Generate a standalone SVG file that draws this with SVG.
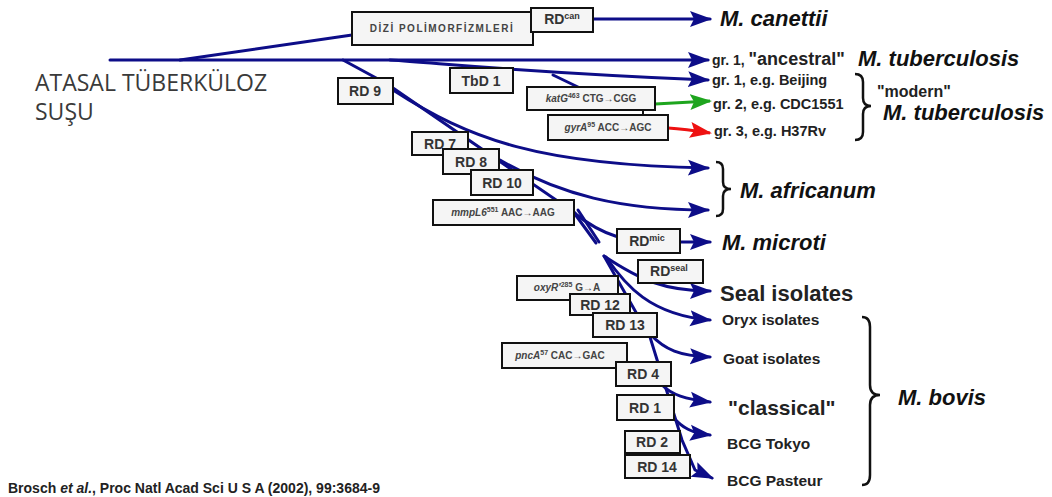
<svg xmlns="http://www.w3.org/2000/svg" width="1052" height="497" viewBox="0 0 1052 497">
<defs>
<marker id="ab" markerUnits="userSpaceOnUse" markerWidth="22" markerHeight="18" refX="20" refY="9" orient="auto"><path d="M0,1 L22,9 L0,17 L4,9 z" fill="#0d0d88"/></marker>
<marker id="ag" markerUnits="userSpaceOnUse" markerWidth="22" markerHeight="18" refX="20" refY="9" orient="auto"><path d="M0,1 L22,9 L0,17 L4,9 z" fill="#1ea51e"/></marker>
<marker id="ar" markerUnits="userSpaceOnUse" markerWidth="22" markerHeight="18" refX="20" refY="9" orient="auto"><path d="M0,1 L22,9 L0,17 L4,9 z" fill="#ee1111"/></marker>
<style>
.ln{fill:none;stroke:#0d0d88;stroke-width:3;stroke-linecap:round}
.box{fill:#f5f5f5;stroke:#111;stroke-width:2}
.bt{font-family:"Liberation Sans",Arial,sans-serif;font-weight:bold;font-size:14px;fill:#333;text-anchor:middle}
.st{font-family:"Liberation Sans",Arial,sans-serif;font-weight:bold;font-size:10px;fill:#444;text-anchor:middle}
.lb{font-family:"Liberation Sans",Arial,sans-serif;font-weight:bold;fill:#222}
.sp{font-family:"Liberation Sans",Arial,sans-serif;font-weight:bold;font-style:italic;font-size:22px;fill:#111}
.br{fill:none;stroke:#111;stroke-width:2.5}
.root{font-family:"Open Sans",sans-serif;font-size:23px;fill:#3a3a3a}
</style>
</defs>
<g id="connectors">
<path class="ln" d="M110,60 L708,60" marker-end="url(#ab)"/>
<path class="ln" d="M180,60 L352,35"/>
<path class="ln" d="M593,19 L710,19" marker-end="url(#ab)"/>
<path class="ln" d="M390,60 C450,64 520,72 708,80" marker-end="url(#ab)"/>
<path class="ln" d="M553,75 L580,88"/>
<path d="M655,104 L710,101" fill="none" stroke="#1ea51e" stroke-width="3" marker-end="url(#ag)"/>
<path d="M643,110 L643,116" fill="none" stroke="#111" stroke-width="2"/>
<path d="M668,128 Q685,129 710,133" fill="none" stroke="#ee1111" stroke-width="3" marker-end="url(#ar)"/>
<path class="ln" d="M343,60 L378,79"/>
<path class="ln" d="M393,90 C470,140 540,165 708,168" marker-end="url(#ab)"/>
<path class="ln" d="M393,88 L575,213"/>
<path class="ln" d="M500,160 C560,195 620,210 708,210" marker-end="url(#ab)"/>
<path class="ln" d="M573,212 Q595,230 618,237"/>
<path class="ln" d="M680,242 L710,242" marker-end="url(#ab)"/>
<path class="ln" d="M572,210 L596,243"/>
<path class="ln" d="M578,210 L599,242"/>
<path class="ln" d="M604,256 C640,280 665,291 710,291" marker-end="url(#ab)"/>
<path class="ln" d="M606,257 C625,285 650,315 710,320" marker-end="url(#ab)"/>
<path class="ln" d="M604,256 L650,337 L668,395 L682,440 L695,470 L712,478" marker-end="url(#ab)"/>
<path class="ln" d="M650,334 C665,350 680,356 710,357" marker-end="url(#ab)"/>
<path class="ln" d="M662,385 C672,395 685,399 710,402" marker-end="url(#ab)"/>
<path class="ln" d="M672,416 C682,428 692,433 710,435" marker-end="url(#ab)"/>
</g>
<g id="n-dizi"><rect class="box" x="352" y="12" width="181" height="33"/><text class="st" x="442" y="32" style="letter-spacing:1.5px">DİZİ POLİMORFİZMLERİ</text></g>
<g id="n-rdcan"><rect class="box" x="531" y="8" width="62" height="24"/><text class="bt" x="562" y="24">RD<tspan font-size="9" dy="-5">can</tspan></text></g>
<g id="n-rd9"><rect class="box" x="338" y="78" width="55" height="26"/><text class="bt" x="365" y="96">RD 9</text></g>
<g id="n-tbd1"><rect class="box" x="450" y="68" width="63" height="25"/><text class="bt" x="481" y="86">TbD 1</text></g>
<g id="n-katg"><rect class="box" x="527" y="87" width="128" height="23"/><text class="st" x="591" y="102"><tspan font-style="italic">katG</tspan><tspan font-size="7" dy="-4">463</tspan><tspan dy="4"> CTG→CGG</tspan></text></g>
<g id="n-gyra"><rect class="box" x="548" y="115" width="120" height="25"/><text class="st" x="608" y="131"><tspan font-style="italic">gyrA</tspan><tspan font-size="7" dy="-4">95</tspan><tspan dy="4"> ACC→AGC</tspan></text></g>
<g id="n-rd7"><rect class="box" x="412" y="132" width="56" height="23"/><text class="bt" x="440" y="149">RD 7</text></g>
<g id="n-rd8"><rect class="box" x="443" y="149" width="56" height="25"/><text class="bt" x="471" y="167">RD 8</text></g>
<g id="n-rd10"><rect class="box" x="471" y="170" width="62" height="25"/><text class="bt" x="502" y="188">RD 10</text></g>
<g id="n-mmpl6"><rect class="box" x="433" y="200" width="141" height="25"/><text class="st" x="503" y="216"><tspan font-style="italic">mmpL6</tspan><tspan font-size="7" dy="-4">551</tspan><tspan dy="4"> AAC→AAG</tspan></text></g>
<g id="n-rdmic"><rect class="box" x="617" y="229" width="63" height="24"/><text class="bt" x="647" y="246">RD<tspan font-size="9" dy="-5">mic</tspan></text></g>
<g id="n-rdseal"><rect class="box" x="638" y="260" width="65" height="23"/><text class="bt" x="669" y="276">RD<tspan font-size="9" dy="-5">seal</tspan></text></g>
<g id="n-oxyr"><rect class="box" x="517" y="276" width="101" height="24"/><text class="st" x="567" y="291"><tspan font-style="italic">oxyR'</tspan><tspan font-size="7" dy="-4">285</tspan><tspan dy="4"> G→A</tspan></text></g>
<g id="n-rd12"><rect class="box" x="570" y="294" width="60" height="21"/><text class="bt" x="600" y="310">RD 12</text></g>
<g id="n-rd13"><rect class="box" x="593" y="313" width="64" height="24"/><text class="bt" x="625" y="330">RD 13</text></g>
<g id="n-pnca"><rect class="box" x="502" y="343" width="125" height="25"/><text class="st" x="560" y="359"><tspan font-style="italic">pncA</tspan><tspan font-size="7" dy="-4">57</tspan><tspan dy="4"> CAC→GAC</tspan></text></g>
<g id="n-rd4"><rect class="box" x="616" y="362" width="55" height="24"/><text class="bt" x="643" y="379">RD 4</text></g>
<g id="n-rd1"><rect class="box" x="617" y="395" width="57" height="25"/><text class="bt" x="645" y="413">RD 1</text></g>
<g id="n-rd2"><rect class="box" x="625" y="431" width="55" height="22"/><text class="bt" x="652" y="447">RD 2</text></g>
<g id="n-rd14"><rect class="box" x="625" y="455" width="65" height="23"/><text class="bt" x="657" y="472">RD 14</text></g>
<g id="n-root"><text class="root" x="35" y="91">ATASAL TÜBERKÜLOZ</text><text class="root" x="35" y="120">SUŞU</text></g>
<g id="labels">
<text class="sp" x="720" y="26">M. canettii</text>
<text class="lb" x="712" y="65"><tspan font-size="14">gr. 1, </tspan><tspan font-size="18">"ancestral"</tspan></text>
<text class="sp" x="858" y="66">M. tuberculosis</text>
<text class="lb" x="712" y="85" font-size="14.5">gr. 1, e.g. Beijing</text>
<text class="lb" x="713" y="109" font-size="14.5">gr. 2, e.g. CDC1551</text>
<text class="lb" x="714" y="136" font-size="14.5">gr. 3, e.g. H37Rv</text>
<path class="br" d="M855,74 Q863,74 863,82 L863,98 Q863,106 871,106 Q863,106 863,114 L863,132 Q863,140 855,140"/>
<text class="lb" x="877" y="97" font-size="16">"modern"</text>
<text class="sp" x="883" y="120">M. tuberculosis</text>
<path class="br" d="M716,162 Q723,162 723,169 L723,182 Q723,189 731,189 Q723,189 723,196 L723,209 Q723,216 716,216"/>
<text class="sp" x="740" y="198">M. africanum</text>
<text class="sp" x="722" y="250">M. microti</text>
<text class="lb" x="720" y="301" font-size="22">Seal isolates</text>
<text class="lb" x="722" y="325" font-size="15.5">Oryx isolates</text>
<text class="lb" x="723" y="364" font-size="15.5">Goat isolates</text>
<text class="lb" x="728" y="415" font-size="21">"classical"</text>
<text class="lb" x="727" y="449" font-size="15.5">BCG Tokyo</text>
<text class="lb" x="727" y="486" font-size="15.5">BCG Pasteur</text>
<path class="br" d="M862,317 Q870,317 870,327 L870,385 Q870,395 880,395 Q870,395 870,405 L870,475 Q870,485 862,485"/>
<text class="sp" x="898" y="405">M. bovis</text>
<text class="lb" x="8" y="493" font-size="14">Brosch <tspan font-style="italic">et al.</tspan>, Proc Natl Acad Sci U S A (2002), 99:3684-9</text>
</g>
</svg>
